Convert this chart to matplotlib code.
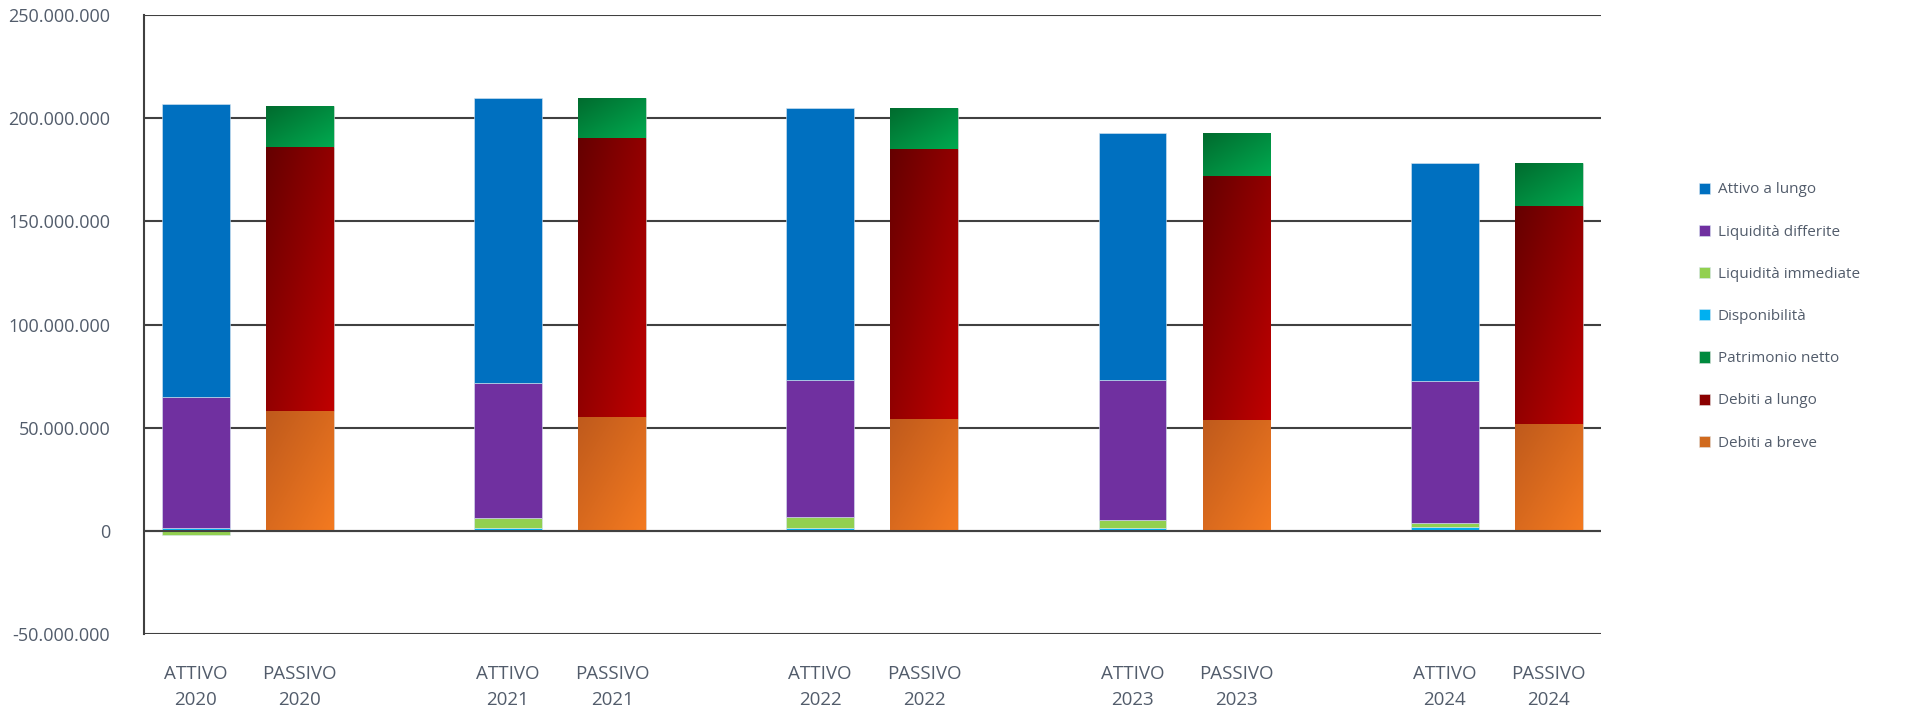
import numpy as np
import matplotlib
matplotlib.use('Agg')
import matplotlib.pyplot as plt
from matplotlib.colors import LinearSegmentedColormap
from matplotlib.ticker import FuncFormatter, MultipleLocator

plt.rcParams['font.family'] = ['Open Sans', 'DejaVu Sans']

# valori in milioni di euro
anni = ['2020', '2021', '2022', '2023', '2024']
attivo_lungo = [141.9, 138.3, 131.8, 119.4, 105.8]
liquidita_differite = [63.4, 65.5, 66.5, 68.1, 68.7]
liquidita_immediate = [-2.0, 4.5, 5.3, 3.7, 1.9]
disponibilita = [1.6, 1.5, 1.5, 1.5, 2.1]
patrimonio_netto = [19.5, 19.5, 20.1, 20.7, 21.3]
debiti_lungo = [128.3, 135.3, 130.6, 118.2, 105.2]
debiti_breve = [57.9, 55.0, 54.4, 53.8, 52.0]

grigio_testo = '#525c6b'
grigio_linee = '#404040'


def riempi_gradiente(ax, barre, c1, c2):
    # gradiente diagonale (scuro in alto a sinistra) ritagliato sulla barra
    cmap = LinearSegmentedColormap.from_list('grad', [c1, c2])
    u = np.linspace(0, 1, 64)
    g = (u[None, :] + u[:, None]) / 2
    for b in barre:
        x0, y0 = b.get_x(), b.get_y()
        w, h = b.get_width(), b.get_height()
        if h == 0:
            continue
        im = ax.imshow(g, cmap=cmap, extent=(x0, x0 + w, y0, y0 + h),
                       aspect='auto', zorder=3, interpolation='bilinear')
        im.set_clip_path(b)


fig = plt.figure(figsize=(19.08, 7.14), dpi=100)
ax = fig.add_axes([0.0753, 0.112, 0.7637, 0.867])

x_att = np.arange(len(anni)) * 3
x_pas = x_att + 1
larg = 0.65

# ATTIVO: impilato con valori positivi e negativi separati
pos = np.zeros(len(anni))
neg = np.zeros(len(anni))
serie_attivo = [
    ('Disponibilità', disponibilita, '#00B0F0'),
    ('Liquidità immediate', liquidita_immediate, '#92D050'),
    ('Liquidità differite', liquidita_differite, '#7030A0'),
    ('Attivo a lungo', attivo_lungo, '#0070C0'),
]
handles = {}
for nome, valori, col in serie_attivo:
    v = np.array(valori) * 1e6
    base = np.where(v >= 0, pos, neg)
    h = ax.bar(x_att, v, larg, bottom=base, color=col, zorder=2,
               edgecolor='#d9e6f2', linewidth=0.4, label=nome)
    pos = pos + np.where(v >= 0, v, 0)
    neg = neg + np.where(v < 0, v, 0)
    handles[nome] = h

# PASSIVO
base = np.zeros(len(anni))
serie_passivo = [
    ('Debiti a breve', debiti_breve, '#D06A1E', '#BF5A1C', '#F47A20'),
    ('Debiti a lungo', debiti_lungo, '#8B0000', '#650000', '#C00000'),
    ('Patrimonio netto', patrimonio_netto, '#008A3E', '#006B2E', '#00AA50'),
]
for nome, valori, col, c1, c2 in serie_passivo:
    v = np.array(valori) * 1e6
    h = ax.bar(x_pas, v, larg, bottom=base, color=col, zorder=2,
               edgecolor='#e0e0e0', linewidth=0.4, label=nome)
    riempi_gradiente(ax, h, c1, c2)
    base = base + v
    handles[nome] = h

ax.set_xlim(-0.5, x_pas[-1] + 0.5)
ax.set_ylim(-50e6, 250e6)
ax.yaxis.set_major_locator(MultipleLocator(50e6))
ax.yaxis.set_major_formatter(FuncFormatter(lambda v, p: '{:,.0f}'.format(v).replace(',', '.')))
ax.yaxis.grid(True, color=grigio_linee, linewidth=1.5, zorder=0)
ax.set_axisbelow(True)
ax.axhline(0, color=grigio_linee, linewidth=1.5, zorder=5)

posizioni = np.concatenate([x_att, x_pas])
etichette = ['ATTIVO\n' + a for a in anni] + ['PASSIVO\n' + a for a in anni]
ax.set_xticks(posizioni)
ax.set_xticklabels(etichette, linespacing=1.6)
ax.tick_params(axis='x', length=0, pad=22, labelsize=13.5, labelcolor=grigio_testo)
ax.tick_params(axis='y', length=0, pad=24, labelsize=13, labelcolor=grigio_testo)

for s in ['right', 'top', 'bottom']:
    ax.spines[s].set_visible(False)
ax.spines['left'].set_color(grigio_linee)
ax.spines['left'].set_linewidth(1.5)

ordine = ['Attivo a lungo', 'Liquidità differite', 'Liquidità immediate', 'Disponibilità',
          'Patrimonio netto', 'Debiti a lungo', 'Debiti a breve']
leg = ax.legend([handles[n] for n in ordine], ordine, loc='upper left',
                bbox_to_anchor=(0.887, 0.753), bbox_transform=fig.transFigure,
                frameon=False, fontsize=11, handlelength=0.75, handleheight=0.75,
                handletextpad=0.5, labelspacing=1.78, borderaxespad=0)
for t in leg.get_texts():
    t.set_color(grigio_testo)

fig.savefig('out.png', dpi=100)
